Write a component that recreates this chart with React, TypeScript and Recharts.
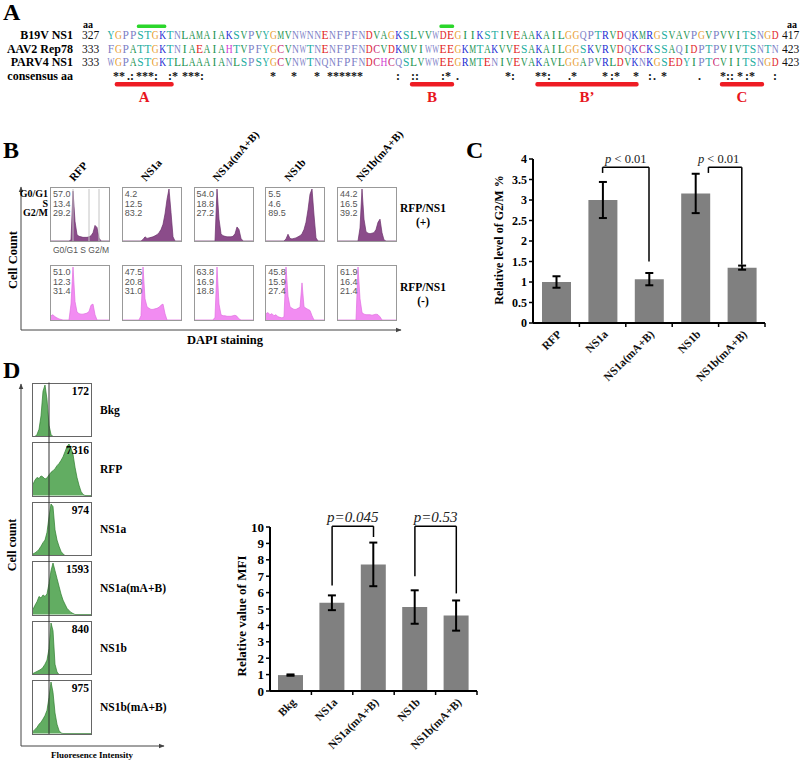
import React from 'react'
import { AreaChart, Area, BarChart, Bar, XAxis, YAxis, ErrorBar, ReferenceLine } from 'recharts'

const SERIF = '"Liberation Serif", "Times New Roman", Times, serif'
const SANS = '"Liberation Sans", Arial, Helvetica, sans-serif'

// ---------- A: alignment ----------
const seqNames = ['B19V NS1', 'AAV2 Rep78', 'PARV4 NS1']
const seqFirst = [327, 333, 333]
const seqLast = [417, 423, 423]
const sequences = [
  'YGPPSTGKTNLAMAIAKSVPVYGMVNWNNENFPFNDVAGKSLVVWDEGIIKSTIVEAAKAILGGQPTRVDQKMRGSVAVPGVPVVITSNGD',
  'FGPATTGKTNIAEAIAHTVPFYGCVNWTNENFPFNDCVDKMVIWWEEGKMTAKVVESAKAILGGSKVRVDQKCKSSAQIDPTPVIVTSNTN',
  'WGPASTGKTLLAAAIANLSPSYGCVNWTNQNFPFNDCHCQSLVWWEEGRMTENIVEVAKAVLGGAPVRLDVKNKGSEDYIPTCVIITSNGD',
]
// consensus symbols as printed, with the x where each group starts
const consensusGroups = [
  '**', '.:', '***:', ':*', '***:', '*', '*', '*', '******', ':', '::', ':*', '.', '*:', '**:', '.*', '*', ':*', '*',
  ':', '.', '*', '.', '*::', '*', ':*', ':',
]
const consensusX = [
  113, 127, 136, 168, 182, 270, 291, 314, 327, 396, 411, 441, 456, 505, 535, 568, 602, 610, 633,
  648, 653, 661, 698, 720, 737, 745, 773,
]
const motifNames = ['A', 'B', 'B\u2019', 'C']
const motifFrom = [1, 41, 58, 83]
const motifTo = [9, 47, 72, 89]
const greenFrom = [4, 45]
const greenTo = [8, 47]

const residueColors: Record<string, string> = {
  A: '#23934f', I: '#23934f', L: '#23934f', M: '#23934f', V: '#23934f',
  F: '#7c7ec6', W: '#7c7ec6', P: '#7c7ec6', N: '#7c7ec6', Q: '#7c7ec6',
  S: '#22ad9f', T: '#22ad9f', Y: '#22ad9f',
  G: '#e89c2c', D: '#e11d25', E: '#e11d25', K: '#1a2bd2', R: '#1a2bd2',
  H: '#cf35cf', C: '#c92672',
}
// Times glyph widths (em) of the letters wider than one alignment column
const glyphEm: Record<string, number> = {
  W: 0.944, M: 0.889, A: 0.722, D: 0.722, G: 0.722, H: 0.722, K: 0.722, N: 0.722, Q: 0.722, V: 0.722, Y: 0.722,
  C: 0.667, R: 0.667,
}

// ---------- B: cell cycle ----------
const cycleGroups = ['RFP', 'NS1a', 'NS1a(mA+B)', 'NS1b', 'NS1b(mA+B)']
const phaseNames = ['G0/G1', 'S', 'G2/M']
const phasePos = [[57.0, 13.4, 29.2], [4.2, 12.5, 83.2], [54.0, 18.8, 27.2], [5.5, 4.6, 89.5], [44.2, 16.5, 39.2]]
const phaseNeg = [[51.0, 12.3, 31.4], [47.5, 20.8, 31.0], [63.8, 16.9, 18.8], [45.8, 15.9, 27.4], [61.9, 16.4, 21.4]]
const dapiPos = [
  [0, 0, 0, 0, 0, 0, 0, 0, 0, 0, 2, 96, 38, 12, 9, 8, 7, 7, 7, 8, 10, 16, 30, 26, 6, 0, 0, 0, 0, 0],
  [0, 0, 0, 0, 0, 0, 0, 0, 0, 0, 3, 8, 5, 6, 7, 8, 10, 12, 16, 22, 32, 52, 80, 100, 55, 8, 0, 0, 0, 0],
  [0, 0, 0, 0, 0, 0, 0, 0, 0, 0, 0, 100, 42, 14, 10, 9, 8, 8, 8, 9, 14, 27, 22, 5, 0, 0, 0, 0, 0, 0],
  [0, 0, 0, 0, 0, 0, 0, 0, 0, 0, 4, 13, 5, 4, 5, 6, 8, 10, 14, 22, 36, 60, 90, 100, 50, 6, 0, 0, 0, 0],
  [0, 0, 0, 0, 0, 0, 0, 0, 0, 0, 0, 25, 100, 42, 18, 15, 14, 15, 16, 22, 36, 42, 16, 2, 0, 0, 0, 0, 0, 0],
]
const dapiNeg = [
  [8, 10, 6, 4, 2, 1, 0, 0, 0, 0, 30, 100, 35, 15, 12, 11, 11, 12, 13, 16, 28, 30, 10, 0, 0, 0, 0, 0, 0, 0],
  [0, 0, 0, 0, 0, 0, 0, 0, 0, 8, 100, 40, 25, 22, 20, 20, 21, 22, 24, 28, 30, 12, 0, 0, 0, 0, 0, 0, 0, 0],
  [0, 0, 0, 0, 0, 0, 0, 0, 0, 0, 5, 100, 30, 10, 8, 8, 7, 7, 7, 8, 9, 7, 2, 0, 0, 0, 0, 0, 0, 0],
  [12, 14, 10, 12, 8, 10, 6, 5, 4, 6, 100, 45, 25, 22, 20, 20, 22, 24, 70, 25, 22, 20, 18, 8, 0, 0, 0, 0, 0, 0],
  [0, 0, 0, 0, 0, 0, 0, 0, 0, 0, 100, 40, 14, 11, 10, 10, 10, 9, 10, 11, 10, 6, 0, 0, 0, 0, 0, 0, 0, 0],
]
const gateBins = [11, 19, 24]

// ---------- C: G2/M bar chart ----------
const g2mValue = [1.0, 3.0, 1.07, 3.16, 1.35]
const g2mError = [0.14, 0.44, 0.15, 0.48, 0.05]
const g2mTicks = [0, 0.5, 1, 1.5, 2, 2.5, 3, 3.5, 4]

// ---------- D: MFI ----------
const mfiHistGroups = ['Bkg', 'RFP', 'NS1a', 'NS1a(mA+B)', 'NS1b', 'NS1b(mA+B)']
const mfiHistValue = [172, 7316, 974, 1593, 840, 975]
const mfiHist = [
  [0, 0, 4, 14, 40, 88, 100, 72, 22, 4, 0, 0, 0, 0, 0, 0, 0, 0, 0, 0, 0, 0, 0, 0, 0, 0, 0, 0, 0, 0],
  [22, 30, 35, 33, 38, 36, 32, 34, 40, 45, 48, 52, 58, 62, 68, 75, 85, 95, 100, 92, 80, 55, 35, 20, 8, 2, 0, 0, 0, 0],
  [3, 5, 8, 12, 18, 25, 30, 45, 75, 100, 95, 50, 30, 18, 8, 3, 0, 0, 0, 0, 0, 0, 0, 0, 0, 0, 0, 0, 0, 0],
  [10, 18, 25, 35, 32, 38, 35, 40, 60, 85, 100, 85, 70, 55, 40, 28, 20, 12, 8, 4, 2, 0, 0, 0, 0, 0, 0, 0, 0, 0],
  [2, 4, 6, 8, 10, 14, 20, 28, 50, 100, 85, 20, 5, 0, 0, 0, 0, 0, 0, 0, 0, 0, 0, 0, 0, 0, 0, 0, 0, 0],
  [4, 8, 12, 18, 22, 28, 35, 45, 70, 100, 80, 40, 18, 6, 1, 0, 0, 0, 0, 0, 0, 0, 0, 0, 0, 0, 0, 0, 0, 0],
]
const mfiGroups = ['Bkg', 'NS1a', 'NS1a(mA+B)', 'NS1b', 'NS1b(mA+B)']
const mfiValue = [0.97, 5.38, 7.72, 5.12, 4.6]
const mfiError = [0.04, 0.45, 1.33, 1.02, 0.92]
const mfiTicks = [0, 1, 2, 3, 4, 5, 6, 7, 8, 9, 10]

const SEQ_X = 107.3
const SEQ_STEP = 7.38
const SEQ_FONT = 11.5

function Hist({ data, left, top, width, height, fill, stroke, border, gates }: any) {
  const rows = data.map((count: number, bin: number) => ({ bin, count }))
  return (
    <div style={{ position: 'absolute', left, top, width, height, border: `1px solid ${border}`, boxSizing: 'border-box' }}>
      <AreaChart width={width - 2} height={height - 2} data={rows} margin={{ top: 1, right: 0, bottom: 0, left: 0 }}>
        <XAxis dataKey="bin" type="number" domain={[0, data.length - 1]} hide />
        <YAxis domain={[0, 100]} hide />
        {(gates || []).map((g: number) => (
          <ReferenceLine key={g} x={g} stroke="#c4c4c4" strokeWidth={1} />
        ))}
        <Area type="linear" dataKey="count" fill={fill} fillOpacity={1} stroke={stroke} strokeWidth={0.7} dot={false} activeDot={false} isAnimationActive={false} />
      </AreaChart>
    </div>
  )
}

function SlantTick(props: any) {
  const { x, y, payload, band } = props
  const ax = x + 6
  const ay = y + 12
  return (
    <g>
      <line x1={x + band / 2} x2={x + band / 2} y1={y} y2={y + 4} stroke="#000" strokeWidth={1.5} />
      <text x={ax} y={ay} transform={`rotate(-45 ${ax} ${ay})`} textAnchor="end" fontFamily={SERIF} fontWeight="bold" fontSize={11.5} fill="#111">
        {payload.value}
      </text>
    </g>
  )
}

function PValue(props: any) {
  const { viewBox, text, size, allItalic } = props
  const cx = viewBox.x + viewBox.width / 2
  return (
    <text x={cx} y={viewBox.y - 4} textAnchor="middle" fontFamily={SERIF} fontSize={size} fill="#222">
      <tspan fontStyle="italic">p</tspan>
      <tspan fontStyle={allItalic ? 'italic' : 'normal'}>{text}</tspan>
    </text>
  )
}

const shifted = (dx: number) => (p: any) => (
  <line x1={p.x1 + dx} y1={p.y1} x2={p.x2 + dx} y2={p.y2} stroke="#000" strokeWidth={1.5} />
)
const shiftedLeft = (dx: number) => (p: any) => (
  <line x1={p.x1 + dx} y1={p.y1} x2={p.x2} y2={p.y2} stroke="#000" strokeWidth={1.5} />
)

const axisStyle = { stroke: '#000', strokeWidth: 2 }
const yTick = { fill: '#000', fontFamily: SERIF, fontWeight: 700, fontSize: 12 }

function G2MChart() {
  const rows = cycleGroups.map((name, i) => ({ name, value: g2mValue[i], err: g2mError[i] }))
  const line = { stroke: '#000', strokeWidth: 1.5, ifOverflow: 'visible' as const }
  return (
    <div style={{ position: 'absolute', left: 460, top: 140 }}>
      <BarChart width={320} height={250} data={rows} margin={{ top: 19, right: 15, bottom: 0, left: 0 }}>
        <XAxis dataKey="name" height={67} interval={0} tickLine={false} tickSize={0} tickMargin={0} axisLine={axisStyle} tick={<SlantTick band={46.4} />} />
        <YAxis width={73} domain={[0, 4]} ticks={g2mTicks} interval={0} axisLine={axisStyle} tickLine={{ stroke: '#000', strokeWidth: 1.5 }} tickSize={4} tick={yTick} />
        <Bar dataKey="value" fill="#808080" barSize={29} isAnimationActive={false}>
          <ErrorBar dataKey="err" width={4} strokeWidth={2} stroke="#000" />
        </Bar>
        <ReferenceLine {...line} segment={[{ x: 'NS1a', y: 3.66 }, { x: 'NS1a', y: 3.8 }]} />
        <ReferenceLine {...line} segment={[{ x: 'NS1a', y: 3.8 }, { x: 'NS1a(mA+B)', y: 3.8 }]} label={<PValue text=" < 0.01" size={12.5} />} />
        <ReferenceLine {...line} segment={[{ x: 'NS1a(mA+B)', y: 3.8 }, { x: 'NS1a(mA+B)', y: 1.5 }]} />
        <ReferenceLine {...line} segment={[{ x: 'NS1b', y: 3.66 }, { x: 'NS1b', y: 3.8 }]} shape={shifted(13)} />
        <ReferenceLine {...line} segment={[{ x: 'NS1b', y: 3.8 }, { x: 'NS1b(mA+B)', y: 3.8 }]} shape={shiftedLeft(13)} label={<PValue text=" < 0.01" size={12.5} />} />
        <ReferenceLine {...line} segment={[{ x: 'NS1b(mA+B)', y: 3.8 }, { x: 'NS1b(mA+B)', y: 1.42 }]} />
      </BarChart>
    </div>
  )
}

function MFIChart() {
  const rows = mfiGroups.map((name, i) => ({ name, value: mfiValue[i], err: mfiError[i] }))
  const line = { stroke: '#000', strokeWidth: 1.5, ifOverflow: 'visible' as const }
  return (
    <div style={{ position: 'absolute', left: 200, top: 510 }}>
      <BarChart width={290} height={250} data={rows} margin={{ top: 17, right: 13, bottom: 0, left: 0 }}>
        <XAxis dataKey="name" height={69} interval={0} tickLine={false} tickSize={0} tickMargin={0} axisLine={axisStyle} tick={<SlantTick band={41.4} />} />
        <YAxis width={70} domain={[0, 10]} ticks={mfiTicks} interval={0} axisLine={axisStyle} tickLine={{ stroke: '#000', strokeWidth: 1.5 }} tickSize={4} tick={{ ...yTick, fontSize: 13 }} />
        <Bar dataKey="value" fill="#808080" barSize={25} isAnimationActive={false}>
          <ErrorBar dataKey="err" width={4} strokeWidth={2} stroke="#000" />
        </Bar>
        <ReferenceLine {...line} segment={[{ x: 'NS1a', y: 6.44 }, { x: 'NS1a', y: 10.05 }]} />
        <ReferenceLine {...line} segment={[{ x: 'NS1a', y: 10.05 }, { x: 'NS1a(mA+B)', y: 10.05 }]} label={<PValue text="=0.045" size={15} allItalic />} />
        <ReferenceLine {...line} segment={[{ x: 'NS1a(mA+B)', y: 10.05 }, { x: 'NS1a(mA+B)', y: 9.39 }]} />
        <ReferenceLine {...line} segment={[{ x: 'NS1b', y: 7.0 }, { x: 'NS1b', y: 10.05 }]} />
        <ReferenceLine {...line} segment={[{ x: 'NS1b', y: 10.05 }, { x: 'NS1b(mA+B)', y: 10.05 }]} label={<PValue text="=0.53" size={15} allItalic />} />
        <ReferenceLine {...line} segment={[{ x: 'NS1b(mA+B)', y: 10.05 }, { x: 'NS1b(mA+B)', y: 5.95 }]} />
      </BarChart>
    </div>
  )
}

const B_LEFT = 50
const B_STEP = 71.75
const D_TOP = 382.5
const D_STEP = 59.5

function Residue({ c, i, y }: { c: string; i: number; y: number }) {
  const cx = SEQ_X + SEQ_STEP * (i + 0.5)
  const w = (glyphEm[c] || 0) * SEQ_FONT
  const sx = w > SEQ_STEP - 0.5 ? (SEQ_STEP - 0.5) / w : 1
  return (
    <text
      transform={`translate(${cx} ${y}) scale(${sx.toFixed(3)} 1)`}
      fontFamily={SERIF}
      fontSize={SEQ_FONT}
      textAnchor="middle"
      fill={residueColors[c] || '#333'}
    >
      {c}
    </text>
  )
}

function Overlay() {
  const rowY = [39, 52.5, 66]
  const bold = { fontFamily: SERIF, fontWeight: 700 as const }
  return (
    <svg width={800} height={760} style={{ position: 'absolute', left: 0, top: 0, pointerEvents: 'none' }}>
      <defs>
        <marker id="arr" viewBox="0 0 10 10" refX="9" refY="5" markerWidth="6" markerHeight="6" orient="auto">
          <path d="M0,1 L10,5 L0,9 z" fill="#444" />
        </marker>
      </defs>
      {/* panel letters */}
      <text x={3} y={20} {...bold} fontSize={24}>A</text>
      <text x={3} y={158} {...bold} fontSize={24}>B</text>
      <text x={466} y={158} {...bold} fontSize={24}>C</text>
      <text x={3} y={378} {...bold} fontSize={24}>D</text>

      {/* A */}
      <text x={88} y={28} {...bold} fontSize={10} textAnchor="middle">aa</text>
      <text x={792} y={28} {...bold} fontSize={10} textAnchor="middle">aa</text>
      {seqNames.map((n, r) => (
        <g key={n}>
          <text x={73} y={rowY[r]} {...bold} fontSize={12} textAnchor="end">{n}</text>
          <text x={82} y={rowY[r]} fontFamily={SERIF} fontSize={11.5} fill="#111">{seqFirst[r]}</text>
          <text x={782} y={rowY[r]} fontFamily={SERIF} fontSize={11.5} fill="#111">{seqLast[r]}</text>
          {sequences[r].split('').map((c, i) => (
            <Residue key={i} c={c} i={i} y={rowY[r]} />
          ))}
        </g>
      ))}
      <text x={73} y={80} {...bold} fontSize={12} textAnchor="end">consensus aa</text>
      {consensusGroups.map((s, i) => (
        <text key={'c' + i} x={consensusX[i]} y={80} {...bold} fontSize={12} fill="#111">{s}</text>
      ))}
      {greenFrom.map((f, i) => (
        <rect key={'g' + i} x={SEQ_X + SEQ_STEP * f} y={24.5} width={SEQ_STEP * (greenTo[i] - f)} height={3.5} rx={1.5} fill="#2bd62b" />
      ))}
      {motifNames.map((m, i) => (
        <g key={m}>
          <rect x={SEQ_X + SEQ_STEP * motifFrom[i]} y={82} width={SEQ_STEP * (motifTo[i] - motifFrom[i])} height={4.5} rx={2} fill="#ee1c24" />
          <text x={SEQ_X + (SEQ_STEP * (motifFrom[i] + motifTo[i])) / 2} y={102} {...bold} fontSize={15} fill="#e8161d" textAnchor="middle">{m}</text>
        </g>
      ))}

      {/* B */}
      <line x1={21} y1={330} x2={21} y2={187} stroke="#444" markerEnd="url(#arr)" />
      <line x1={21} y1={330} x2={401} y2={330} stroke="#444" markerEnd="url(#arr)" />
      <text x={0} y={0} transform="translate(17 260) rotate(-90)" {...bold} fontSize={12.5} textAnchor="middle">Cell Count</text>
      <text x={225} y={344} {...bold} fontSize={12.5} textAnchor="middle">DAPI staining</text>
      {cycleGroups.map((g, i) => {
        const ax = B_LEFT + B_STEP * i + 24
        return (
          <text key={g} x={ax} y={182} transform={`rotate(-48 ${ax} 182)`} {...bold} fontSize={11}>{g}</text>
        )
      })}
      {phaseNames.map((p, k) => (
        <text key={p} x={48} y={197 + 9.5 * k} {...bold} fontSize={10} textAnchor="end">{p}</text>
      ))}
      {[phasePos, phaseNeg].map((tbl, r) =>
        tbl.map((vals, i) =>
          vals.map((v, k) => (
            <text key={`${r}-${i}-${k}`} x={B_LEFT + B_STEP * i + 3} y={(r === 0 ? 197 : 275) + 9.5 * k} fontFamily={SANS} fontSize={9} fill="#555">
              {v.toFixed(1)}
            </text>
          ))
        )
      )}
      <text x={81} y={253} fontFamily={SANS} fontSize={8.5} fill="#555" textAnchor="middle">G0/G1 S G2/M</text>
      <text x={423} y={212} {...bold} fontSize={11.5} textAnchor="middle">RFP/NS1</text>
      <text x={423} y={226} {...bold} fontSize={11.5} textAnchor="middle">(+)</text>
      <text x={423} y={291} {...bold} fontSize={11.5} textAnchor="middle">RFP/NS1</text>
      <text x={423} y={305} {...bold} fontSize={11.5} textAnchor="middle">(-)</text>

      {/* C / D axis titles */}
      <text x={0} y={0} transform="translate(503 240) rotate(-90)" {...bold} fontSize={12} textAnchor="middle">Relative level of G2/M %</text>
      <text x={0} y={0} transform="translate(246 616) rotate(-90)" {...bold} fontSize={13} textAnchor="middle">Relative value of MFI</text>

      {/* D histograms */}
      <line x1={21} y1={746} x2={21} y2={384} stroke="#444" markerEnd="url(#arr)" />
      <line x1={21} y1={746} x2={164} y2={746} stroke="#444" markerEnd="url(#arr)" />
      <text x={0} y={0} transform="translate(16 545) rotate(-90)" {...bold} fontSize={12} textAnchor="middle">Cell count</text>
      <text x={92} y={758} {...bold} fontSize={9} textAnchor="middle">Fluoresence Intensity</text>
      <line x1={49} y1={D_TOP} x2={49} y2={D_TOP + D_STEP * 5 + 54} stroke="#333" strokeWidth={1} />
      {mfiHistGroups.map((g, i) => (
        <g key={g}>
          <text x={89} y={D_TOP + D_STEP * i + 12} {...bold} fontSize={11.5} textAnchor="end">{mfiHistValue[i]}</text>
          <text x={100} y={D_TOP + D_STEP * i + 31} {...bold} fontSize={11.5}>{g}</text>
        </g>
      ))}
    </svg>
  )
}

export default function App() {
  return (
    <div style={{ position: 'absolute', left: 0, top: 0, width: 800, height: 760, background: '#fff', overflow: 'hidden' }}>
      {dapiPos.map((d, i) => (
        <Hist key={'p' + i} data={d} left={B_LEFT + B_STEP * i} top={187} width={60} height={55} fill="#8b4c8a" stroke="#6a2f6a" border="#999" gates={i === 0 ? gateBins : []} />
      ))}
      {dapiNeg.map((d, i) => (
        <Hist key={'n' + i} data={d} left={B_LEFT + B_STEP * i} top={265} width={60} height={56} fill="#f28cf2" stroke="#e06ee0" border="#999" />
      ))}
      {mfiHist.map((d, i) => (
        <Hist key={'m' + i} data={d} left={32} top={D_TOP + D_STEP * i} width={60} height={54.5} fill="#62ad62" stroke="#2e7d2e" border="#666" />
      ))}
      <G2MChart />
      <MFIChart />
      <Overlay />
    </div>
  )
}
